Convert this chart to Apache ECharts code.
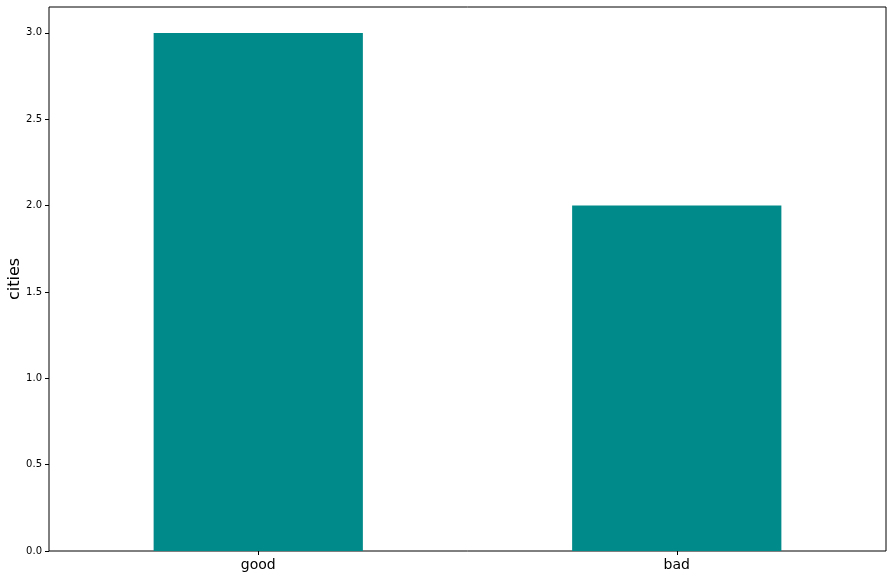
<!DOCTYPE html>
<html>
<head>
<meta charset="utf-8">
<script src="https://cdn.jsdelivr.net/npm/echarts@6/dist/echarts.min.js"></script>
<style>
html,body{margin:0;padding:0;background:#fff;}
#chart{width:893px;height:579px;}
</style>
</head>
<body>
<div id="chart"></div>
<script>
const categories = ['good', 'bad'];
const cityCounts = [3, 2];
const yTicks = [0, 0.5, 1.0, 1.5, 2.0, 2.5, 3.0];

const chart = echarts.init(document.getElementById('chart'), null, {renderer: 'canvas'});
chart.setOption({
  animation: false,
  backgroundColor: '#ffffff',
  textStyle: {fontFamily: 'DejaVu Sans'},
  grid: {left: 49, right: 7, top: 7, bottom: 28, containLabel: false, outerBoundsMode: 'none',
    show: true, borderColor: '#000', borderWidth: 1, backgroundColor: 'transparent'},
  xAxis: {
    type: 'category',
    data: categories,
    boundaryGap: true,
    axisLine: {show: false},
    axisTick: {show: true, alignWithLabel: true, length: 4, lineStyle: {color: '#000'}},
    axisLabel: {color: '#000', fontSize: 14, margin: 7, fontFamily: 'DejaVu Sans'},
    splitLine: {show: false}
  },
  yAxis: {
    type: 'value',
    min: 0,
    max: 3.15,
    name: 'cities',
    nameLocation: 'middle',
    nameRotate: 90,
    nameGap: 26,
    nameMoveOverlap: false,
    nameTextStyle: {color: '#000', fontSize: 16, fontFamily: 'DejaVu Sans'},
    axisLine: {show: false},
    axisTick: {show: true, length: 4, lineStyle: {color: '#000'}, customValues: yTicks},
    axisLabel: {color: '#000', fontSize: 10, margin: 7, fontFamily: 'DejaVu Sans', customValues: yTicks,
      formatter: v => v.toFixed(1)},
    splitLine: {show: false}
  },
  series: [{
    type: 'bar',
    data: cityCounts,
    barWidth: '50%',
    itemStyle: {color: '#008b8a'}
  }]
});
</script>
</body>
</html>
